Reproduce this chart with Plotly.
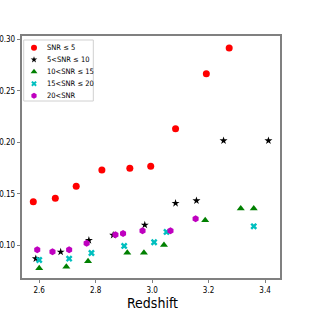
import plotly.graph_objects as go

labels = ["SNR ≤ 5", "5<SNR ≤ 10", "10<SNR ≤ 15", "15<SNR ≤ 20", "20<SNR"]

z_snr5 = [2.579, 2.657, 2.731, 2.822, 2.921, 2.995, 3.083, 3.192, 3.273]
v_snr5 = [0.1425, 0.1458, 0.1575, 0.1733, 0.175, 0.177, 0.2134, 0.2668, 0.2917]

z_snr10 = [2.588, 2.676, 2.776, 2.862, 2.974, 3.083, 3.157, 3.253, 3.412]
v_snr10 = [0.0872, 0.0937, 0.105, 0.110, 0.1199, 0.141, 0.1435, 0.2018, 0.2018]

z_snr15 = [2.600, 2.696, 2.773, 2.912, 2.971, 3.042, 3.188, 3.314, 3.360]
v_snr15 = [0.0779, 0.0794, 0.0847, 0.093, 0.093, 0.1005, 0.1245, 0.136, 0.136]

z_snr20 = [2.600, 2.706, 2.785, 2.901, 3.007, 3.051, 3.360]
v_snr20 = [0.0859, 0.0872, 0.0927, 0.0995, 0.1031, 0.1131, 0.1186]

z_snrhi = [2.593, 2.647, 2.706, 2.768, 2.870, 2.897, 2.966, 3.065, 3.154]
v_snrhi = [0.0959, 0.094, 0.0959, 0.1021, 0.1105, 0.1115, 0.1144, 0.1144, 0.126]

styles = [
    ("red", "circle", 7),
    ("black", "star", 6),
    ("green", "triangle-up", 7),
    ("#00bfbf", "x", 6),
    ("#bf00bf", "hexagon", 7),
]
data = [(z_snr5, v_snr5), (z_snr10, v_snr10), (z_snr15, v_snr15),
        (z_snr20, v_snr20), (z_snrhi, v_snrhi)]

FONT = "DejaVu Sans Condensed, DejaVu Sans"

# compact legend layout (fractions of the plot area)
LEG_KEY_X = 0.0465
LEG_TEXT_X = 0.089
LEG_TOP = 0.9517
LEG_STEP = 0.0496
LEG_BOX = dict(x0=0.0066, x1=0.2764, y0=0.7314, y1=0.9835)

fig = go.Figure()
for (x, y), (c, sym, sz), lab in zip(data, styles, labels):
    fig.add_trace(go.Scatter(x=x, y=y, mode="markers", name=lab, showlegend=False,
                             marker=dict(color=c, symbol=sym, size=sz, line=dict(width=0))))

fig.add_shape(type="rect", xref="paper", yref="paper", **LEG_BOX,
              line=dict(color="#d0d0d0", width=1), fillcolor="white", layer="below")
for i, ((c, sym, sz), lab) in enumerate(zip(styles, labels)):
    yy = LEG_TOP - i * LEG_STEP
    fig.add_trace(go.Scatter(x=[LEG_KEY_X], y=[yy], xaxis="x2", yaxis="y2", mode="markers",
                             showlegend=False, hoverinfo="skip",
                             marker=dict(color=c, symbol=sym, size=sz - 1, line=dict(width=0))))
    fig.add_annotation(x=LEG_TEXT_X, y=yy, xref="paper", yref="paper", text=lab,
                       showarrow=False, xanchor="left", yanchor="middle",
                       font=dict(family=FONT, size=7.5, color="black"))

fig.add_annotation(x=0.504, y=-0.103, xref="paper", yref="paper", text="Redshift",
                   showarrow=False, xanchor="center", yanchor="middle",
                   font=dict(family=FONT, size=14, color="black"))

axis_common = dict(showline=True, linecolor="#808080", linewidth=1.5, mirror=True,
                   ticks="outside", ticklen=3.5, tickcolor="#808080", showgrid=False,
                   zeroline=False, automargin=False,
                   tickfont=dict(family=FONT, size=8, color="black"))

fig.update_layout(
    width=314, height=314,
    margin=dict(l=22, r=34, t=36, b=36),
    plot_bgcolor="white", paper_bgcolor="white",
    showlegend=False,
    xaxis=dict(range=[2.539, 3.453], tickvals=[2.6, 2.8, 3.0, 3.2, 3.4],
               ticktext=["2.6", "2.8", "3.0", "3.2", "3.4"], **axis_common),
    yaxis=dict(range=[0.0684, 0.3034], tickvals=[0.10, 0.15, 0.20, 0.25, 0.30],
               ticktext=["0.10", "0.15", "0.20", "0.25", "0.30"], **axis_common),
    xaxis2=dict(range=[0, 1], overlaying="x", visible=False, fixedrange=True),
    yaxis2=dict(range=[0, 1], overlaying="y", visible=False, fixedrange=True),
)

fig.write_html("out.html", config={"displayModeBar": False},
               post_script="document.body.style.margin='0';document.body.style.padding='0';")
